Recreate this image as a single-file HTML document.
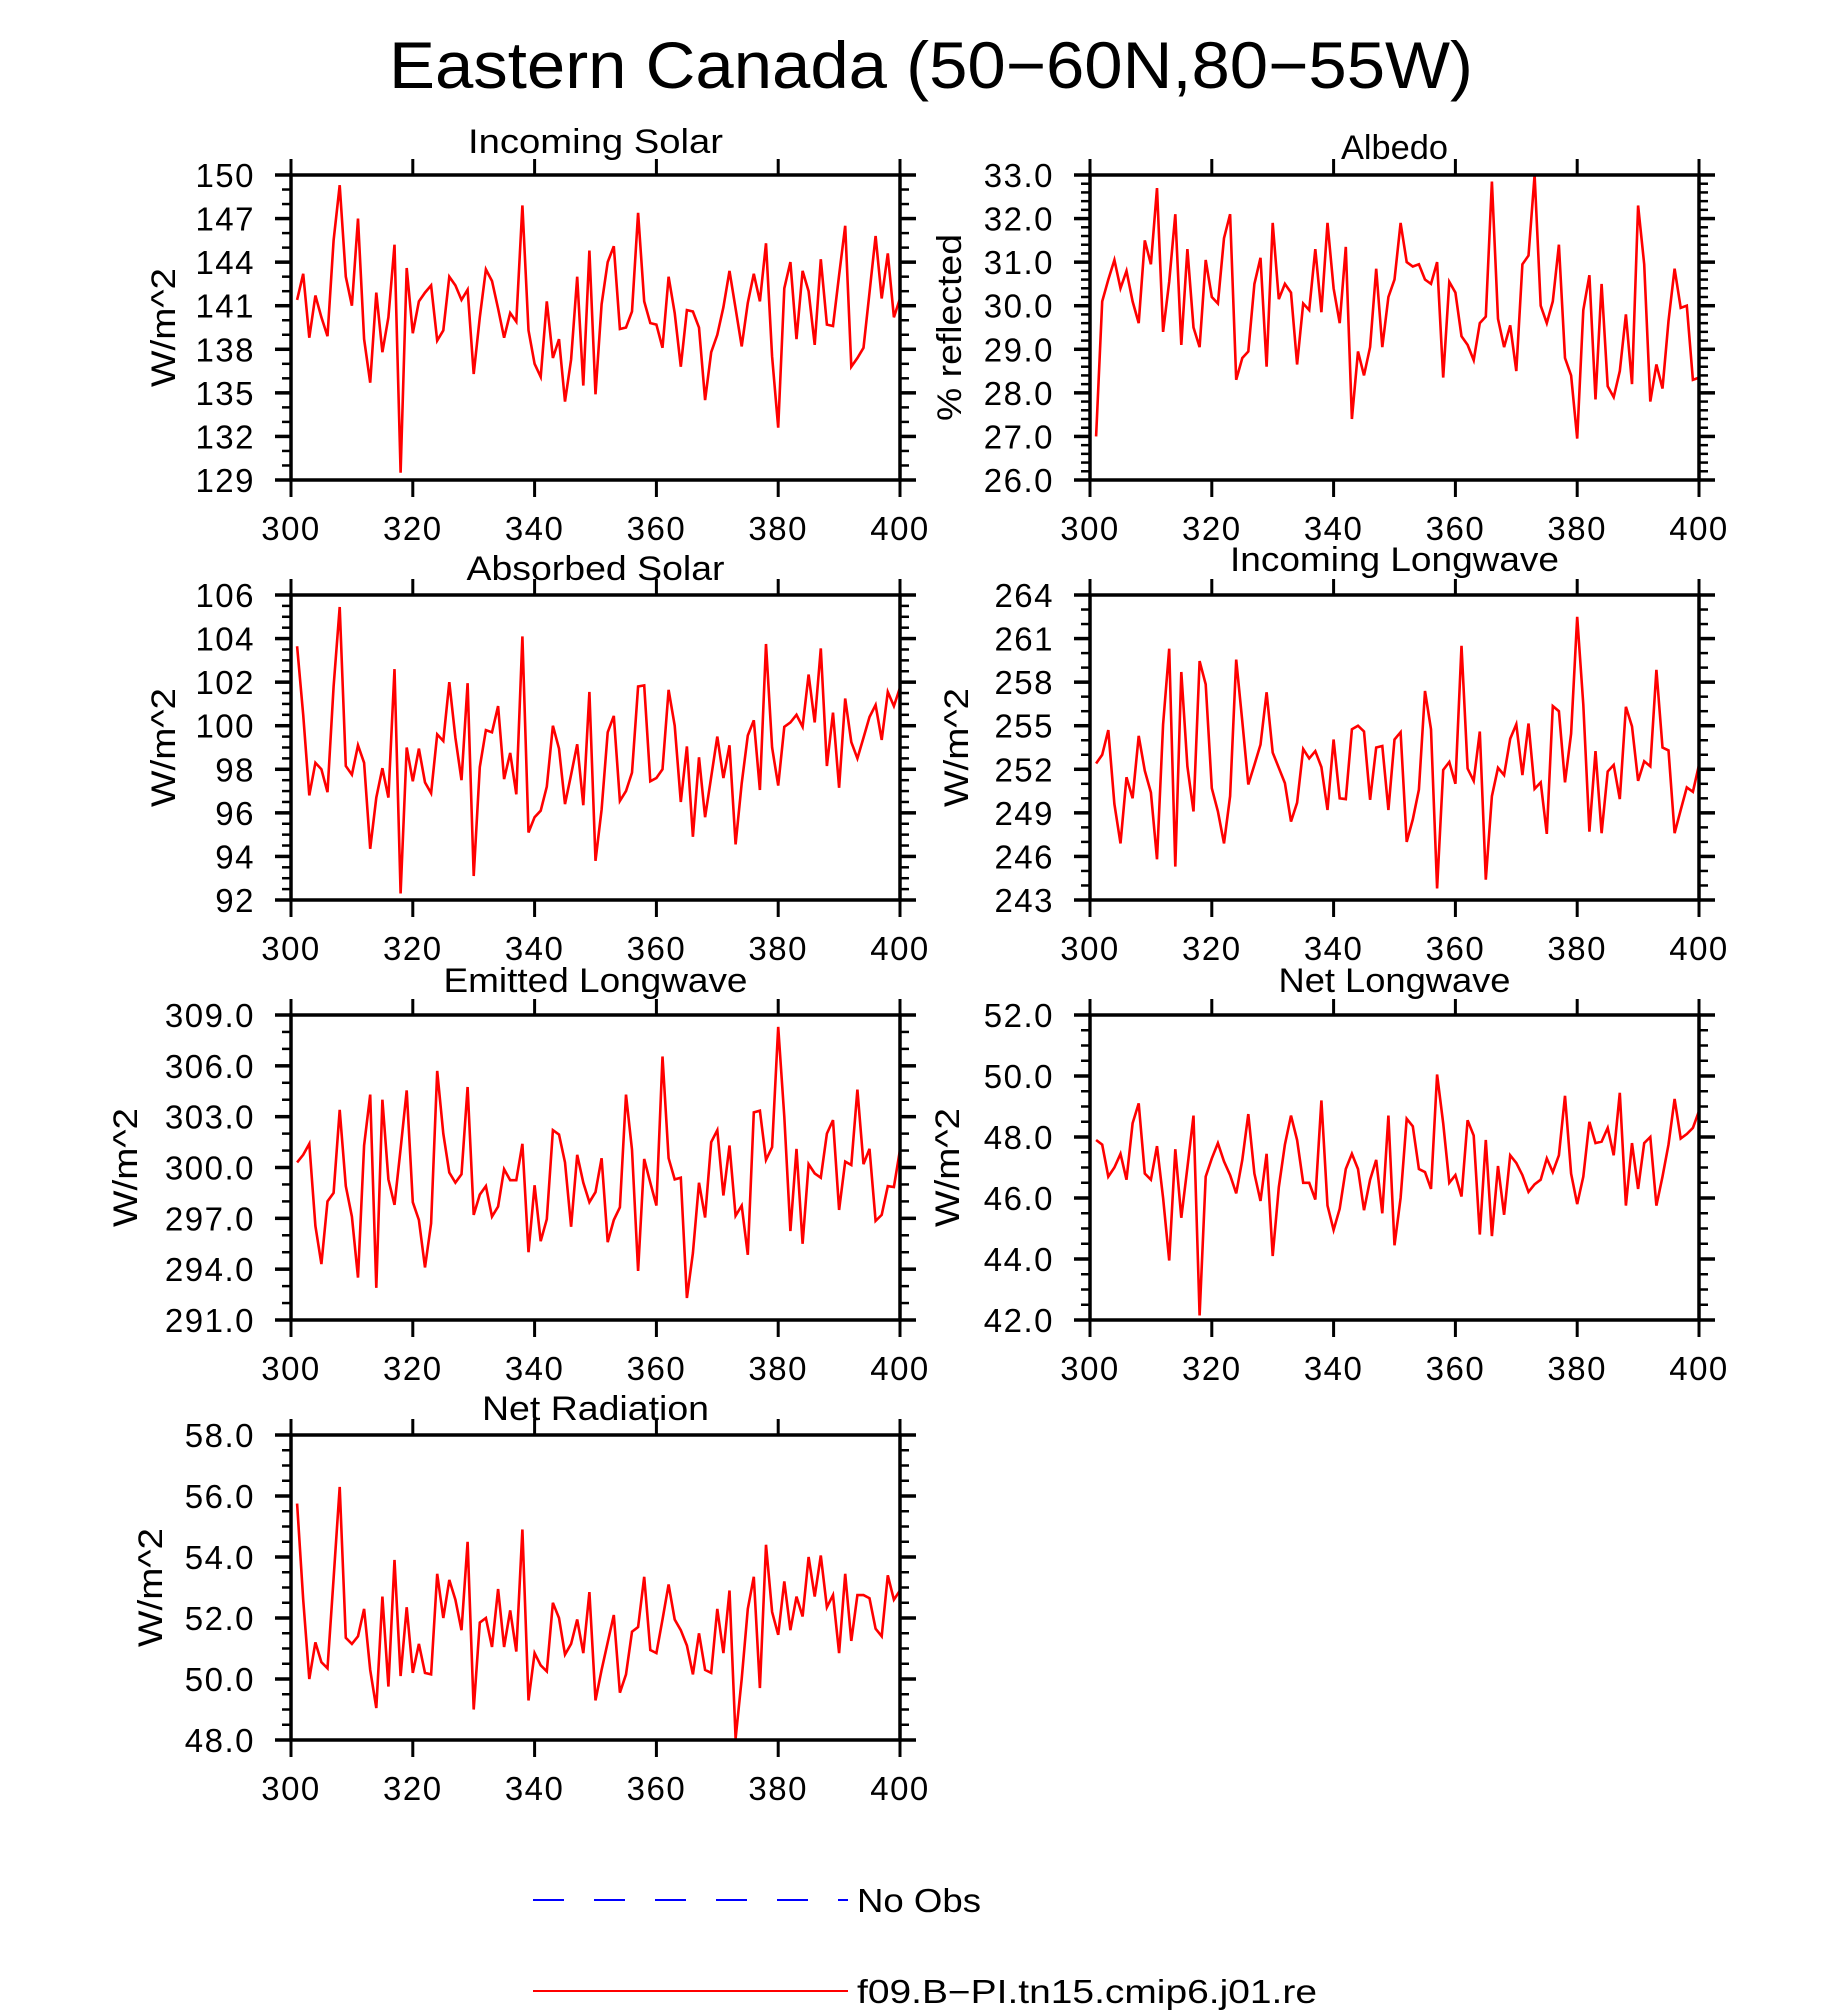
<!DOCTYPE html>
<html><head><meta charset="utf-8"><title>Eastern Canada</title>
<style>
html,body{margin:0;padding:0;background:#fff;}
svg{display:block;font-family:"Liberation Sans",sans-serif;}
</style></head>
<body>
<svg id="chart" xmlns="http://www.w3.org/2000/svg" width="1836" height="2010" viewBox="0 0 1836 2010">
<rect x="0" y="0" width="1836" height="2010" fill="#fff"/>
<text x="931" y="88" font-size="66" text-anchor="middle" textLength="1084" lengthAdjust="spacingAndGlyphs" fill="#000">Eastern  Canada  (50−60N,80−55W)</text>
<g id="panels"></g>
<g>
<line x1="533" y1="1900" x2="848" y2="1900" stroke="#0000ff" stroke-width="2" stroke-dasharray="31,30"/>
<text x="857" y="1912" font-size="33" textLength="124" lengthAdjust="spacingAndGlyphs">No  Obs</text>
<line x1="533" y1="1991" x2="848" y2="1991" stroke="#ff0000" stroke-width="2"/>
<text x="857" y="2003" font-size="33" textLength="460" lengthAdjust="spacingAndGlyphs">f09.B−PI.tn15.cmip6.j01.re</text>
</g>
</svg>
<script>
const years = [];
for (let i = 301; i <= 400; i++) years.push(i);
const xTicks = [300, 320, 340, 360, 380, 400];

const incomingSolar = [141.4,143.2,138.8,141.7,140.2,138.9,145.5,149.3,143.0,141.0,147.0,138.7,135.7,141.9,137.8,140.2,145.2,129.5,143.6,139.1,141.3,141.9,142.4,138.6,139.3,143.0,142.4,141.4,142.1,136.3,140.2,143.5,142.7,140.8,138.8,140.5,139.9,147.9,139.3,137.0,136.1,141.3,137.4,138.7,134.4,137.3,143.0,135.5,144.8,134.9,141.1,144.0,145.1,139.4,139.5,140.6,147.4,141.3,139.8,139.7,138.1,143.0,140.5,136.8,140.7,140.6,139.5,134.5,137.8,139.0,140.9,143.4,140.8,138.2,141.2,143.2,141.3,145.3,137.5,132.6,142.2,144.0,138.7,143.4,142.0,138.3,144.2,139.7,139.6,143.1,146.5,136.8,137.4,138.1,141.9,145.8,141.5,144.6,140.2,141.5];
const albedo = [27.0,30.1,30.6,31.05,30.4,30.8,30.1,29.6,31.5,30.95,32.7,29.4,30.55,32.1,29.1,31.3,29.5,29.05,31.05,30.2,30.05,31.55,32.1,28.3,28.8,28.95,30.5,31.1,28.6,31.9,30.15,30.5,30.3,28.65,30.05,29.9,31.3,29.85,31.9,30.4,29.6,31.35,27.4,28.95,28.4,29.05,30.85,29.05,30.2,30.6,31.9,31.0,30.9,30.95,30.6,30.5,31.0,28.35,30.55,30.3,29.3,29.1,28.75,29.6,29.75,32.85,29.7,29.05,29.55,28.5,30.95,31.15,33.0,30.0,29.6,30.1,31.4,28.8,28.4,26.95,29.9,30.7,27.85,30.5,28.15,27.9,28.5,29.8,28.2,32.3,30.95,27.8,28.65,28.1,29.65,30.85,29.95,30.0,28.3,28.35];
const absorbedSolar = [103.65,100.5,96.8,98.3,98.0,96.95,101.8,105.45,98.15,97.75,99.1,98.3,94.35,96.7,98.05,96.7,102.6,92.3,99.0,97.45,98.95,97.4,96.9,99.6,99.3,102.0,99.45,97.5,101.95,93.1,98.1,99.8,99.7,100.9,97.55,98.75,96.85,104.1,95.1,95.8,96.1,97.2,100.0,98.95,96.4,97.75,99.15,96.35,101.55,93.8,96.15,99.7,100.45,96.55,97.0,97.85,101.8,101.85,97.45,97.6,98.0,101.65,100.0,96.5,99.05,94.9,98.55,95.8,97.65,99.5,97.6,99.1,94.55,97.35,99.55,100.25,97.05,103.75,99.0,97.25,99.95,100.15,100.5,99.95,102.35,100.15,103.55,98.15,100.6,97.15,101.25,99.25,98.5,99.45,100.4,100.95,99.35,101.55,100.9,101.75];
const incomingLongwave = [252.4,253.0,254.7,249.6,246.9,251.45,250.0,254.3,251.9,250.4,245.8,255.1,260.3,245.3,258.7,252.2,249.1,259.45,257.85,250.7,249.1,246.9,250.15,259.55,255.3,250.95,252.3,253.7,257.3,253.15,252.1,251.05,248.4,249.7,253.4,252.75,253.25,252.15,249.2,254.05,250.0,249.95,254.75,255.0,254.6,249.9,253.5,253.6,249.2,254.05,254.55,247.0,248.55,250.6,257.4,254.75,243.8,251.95,252.5,251.0,260.5,252.05,251.2,254.6,244.4,250.15,252.1,251.6,254.1,255.1,251.6,255.15,250.65,251.1,247.55,256.35,256.0,251.1,254.45,262.5,256.45,247.7,253.25,247.6,251.85,252.3,249.95,256.3,254.95,251.2,252.55,252.2,258.85,253.5,253.3,247.6,249.2,250.75,250.45,252.3];
const emittedLongwave = [300.3,300.75,301.4,296.55,294.3,298.0,298.5,303.4,298.9,297.1,293.5,301.3,304.3,292.9,304.0,299.3,297.8,301.1,304.55,297.95,296.9,294.1,296.7,305.7,302.0,299.7,299.1,299.6,304.75,297.2,298.4,298.9,297.1,297.7,299.9,299.25,299.25,301.4,295.0,298.95,295.65,296.95,302.2,301.95,300.3,296.5,300.75,299.1,297.95,298.55,300.55,295.6,296.9,297.65,304.3,301.05,293.9,300.5,299.1,297.75,306.55,300.55,299.3,299.4,292.3,294.95,299.1,297.05,301.5,302.2,298.35,301.3,297.15,297.75,294.85,303.25,303.35,300.45,301.2,308.3,303.0,296.25,301.1,295.5,300.2,299.65,299.4,302.0,302.8,297.5,300.35,300.15,304.6,300.2,301.1,296.85,297.2,298.9,298.85,301.05];
const netLongwave = [47.9,47.75,46.7,47.0,47.45,46.6,48.45,49.1,46.8,46.6,47.7,46.0,43.95,47.6,45.35,47.0,48.7,42.15,46.7,47.3,47.8,47.2,46.75,46.15,47.25,48.75,46.8,45.9,47.45,44.1,46.35,47.75,48.7,47.9,46.5,46.5,45.95,49.2,45.75,44.95,45.65,46.95,47.45,46.95,45.6,46.6,47.25,45.5,48.7,44.45,46.0,48.6,48.35,46.95,46.85,46.3,50.05,48.45,46.5,46.75,46.05,48.55,48.05,44.8,47.9,44.75,47.05,45.45,47.4,47.15,46.75,46.2,46.45,46.6,47.3,46.85,47.4,49.35,46.8,45.8,46.7,48.5,47.8,47.85,48.3,47.4,49.45,45.75,47.8,46.3,47.8,48.0,45.75,46.7,47.75,49.25,47.95,48.1,48.3,48.85];
const netRadiation = [55.75,52.6,50.0,51.2,50.55,50.35,53.3,56.3,51.35,51.15,51.4,52.3,50.3,49.05,52.7,49.75,53.9,50.1,52.35,50.2,51.15,50.2,50.15,53.45,52.0,53.25,52.6,51.6,54.5,49.0,51.85,52.0,51.05,52.95,51.05,52.25,50.9,54.9,49.3,50.85,50.45,50.25,52.5,52.0,50.8,51.15,51.95,50.85,52.85,49.3,50.3,51.2,52.1,49.55,50.15,51.55,51.7,53.35,50.95,50.85,51.95,53.1,51.95,51.6,51.1,50.15,51.5,50.3,50.2,52.3,50.85,52.9,48.05,50.0,52.3,53.35,49.7,54.4,52.2,51.45,53.2,51.6,52.7,52.05,54.0,52.7,54.05,52.35,52.75,50.85,53.45,51.25,52.75,52.75,52.65,51.65,51.4,53.4,52.6,52.9];

const panelTitles = ["Incoming Solar","Albedo","Absorbed Solar","Incoming Longwave","Emitted Longwave","Net Longwave","Net Radiation"];
const panelSeries = [incomingSolar, albedo, absorbedSolar, incomingLongwave, emittedLongwave, netLongwave, netRadiation];
const yMins = [129, 26, 92, 243, 291, 42, 48];
const yMaxs = [150, 33, 106, 264, 309, 52, 58];
const yMajorSteps = [3, 1, 2, 3, 3, 2, 2];
const yMinorSteps = [1, 0.2, 0.5, 1, 1, 0.5, 0.5];
const yDecimals = [0, 1, 0, 0, 1, 1, 1];
const yTitles = ["W/m^2", "% reflected", "W/m^2", "W/m^2", "W/m^2", "W/m^2", "W/m^2"];

// layout (not data)
const layout = [
  {x:291, y:175, tb:153, ytx:163, ytl:119},
  {x:1090, y:175, tb:159, ytx:949, ytl:187},
  {x:291, y:595, tb:580, ytx:163, ytl:119},
  {x:1090, y:595, tb:571, ytx:956, ytl:119},
  {x:291, y:1015, tb:992, ytx:125, ytl:119},
  {x:1090, y:1015, tb:992, ytx:947, ytl:119},
  {x:291, y:1435, tb:1420, ytx:150, ytl:119}
];
const titleLens = [255, 107, 258, 329, 304, 232, 227];
const PW = 609, PH = 305;
const NS = "http://www.w3.org/2000/svg";
const root = document.getElementById('panels');

function mk(tag, attrs, parent) {
  const e = document.createElementNS(NS, tag);
  for (const k in attrs) e.setAttribute(k, attrs[k]);
  parent.appendChild(e);
  return e;
}
function slug(s){return s.toLowerCase().replace(/[^a-z0-9]+/g,'-').replace(/^-|-$/g,'');}

for (let p = 0; p < 7; p++) {
  const L = layout[p];
  const ymin = yMins[p], ymax = yMaxs[p];
  const sx = v => L.x + (v - 300) / 100 * PW;
  const sy = v => L.y + PH - (v - ymin) / (ymax - ymin) * PH;
  const name = slug(panelTitles[p]);
  const g = mk('g', {}, root);
  
  

  // title
  const t = mk('text', {x: L.x + PW/2, y: L.tb, 'font-size': 34, 'text-anchor': 'middle', textLength: titleLens[p], lengthAdjust: 'spacingAndGlyphs'}, g);
  t.textContent = panelTitles[p];
  
  

  // y-axis title
  const yt = mk('text', {x: 0, y: 0, 'font-size': 34, 'text-anchor': 'middle', textLength: L.ytl, lengthAdjust: 'spacingAndGlyphs', transform: 'translate(' + (L.ytx + 12) + ',' + (L.y + PH/2) + ') rotate(-90)'}, g);
  yt.textContent = yTitles[p];
  
  

  // ticks
  const tg = mk('g', {stroke: '#000', 'stroke-width': 3}, g);
  
  
  const nMinor = Math.round((ymax - ymin) / yMinorSteps[p]);
  const ratio = Math.round(yMajorSteps[p] / yMinorSteps[p]);
  for (let i = 0; i <= nMinor; i++) {
    const v = ymin + i * yMinorSteps[p];
    const yy = sy(v);
    const major = (i % ratio === 0);
    const len = major ? 16 : 9;
    mk('line', {x1: L.x - len, y1: yy, x2: L.x, y2: yy, 'stroke-width': major ? 3.5 : 2.5}, tg);
    mk('line', {x1: L.x + PW, y1: yy, x2: L.x + PW + len, y2: yy, 'stroke-width': major ? 3.5 : 2.5}, tg);
    if (major) {
      const lab = mk('text', {x: L.x - 36, y: yy + 12, 'font-size': 33, 'text-anchor': 'end', 'letter-spacing': 1.5, stroke: 'none', fill: '#000'}, g);
      lab.textContent = v.toFixed(yDecimals[p]);
      
      
    }
  }
  for (const xv of xTicks) {
    const xx = sx(xv);
    mk('line', {x1: xx, y1: L.y - 16, x2: xx, y2: L.y}, tg);
    mk('line', {x1: xx, y1: L.y + PH, x2: xx, y2: L.y + PH + 17}, tg);
    const lab = mk('text', {x: xx, y: L.y + PH + 60, 'font-size': 33, 'text-anchor': 'middle', 'letter-spacing': 1.5}, g);
    lab.textContent = String(xv);
    
    
  }

  // series line
  let d = '';
  for (let i = 0; i < years.length; i++) {
    d += (i ? 'L' : 'M') + sx(years[i]).toFixed(1) + ',' + sy(panelSeries[p][i]).toFixed(1);
  }
  const path = mk('path', {d: d, fill: 'none', stroke: '#ff0000', 'stroke-width': 2.6, 'stroke-linejoin': 'miter'}, g);
  
  

  // frame
  const fr = mk('rect', {x: L.x, y: L.y, width: PW, height: PH, fill: 'none', stroke: '#000', 'stroke-width': 3.5}, g);
  
  
}
</script>
</body></html>
